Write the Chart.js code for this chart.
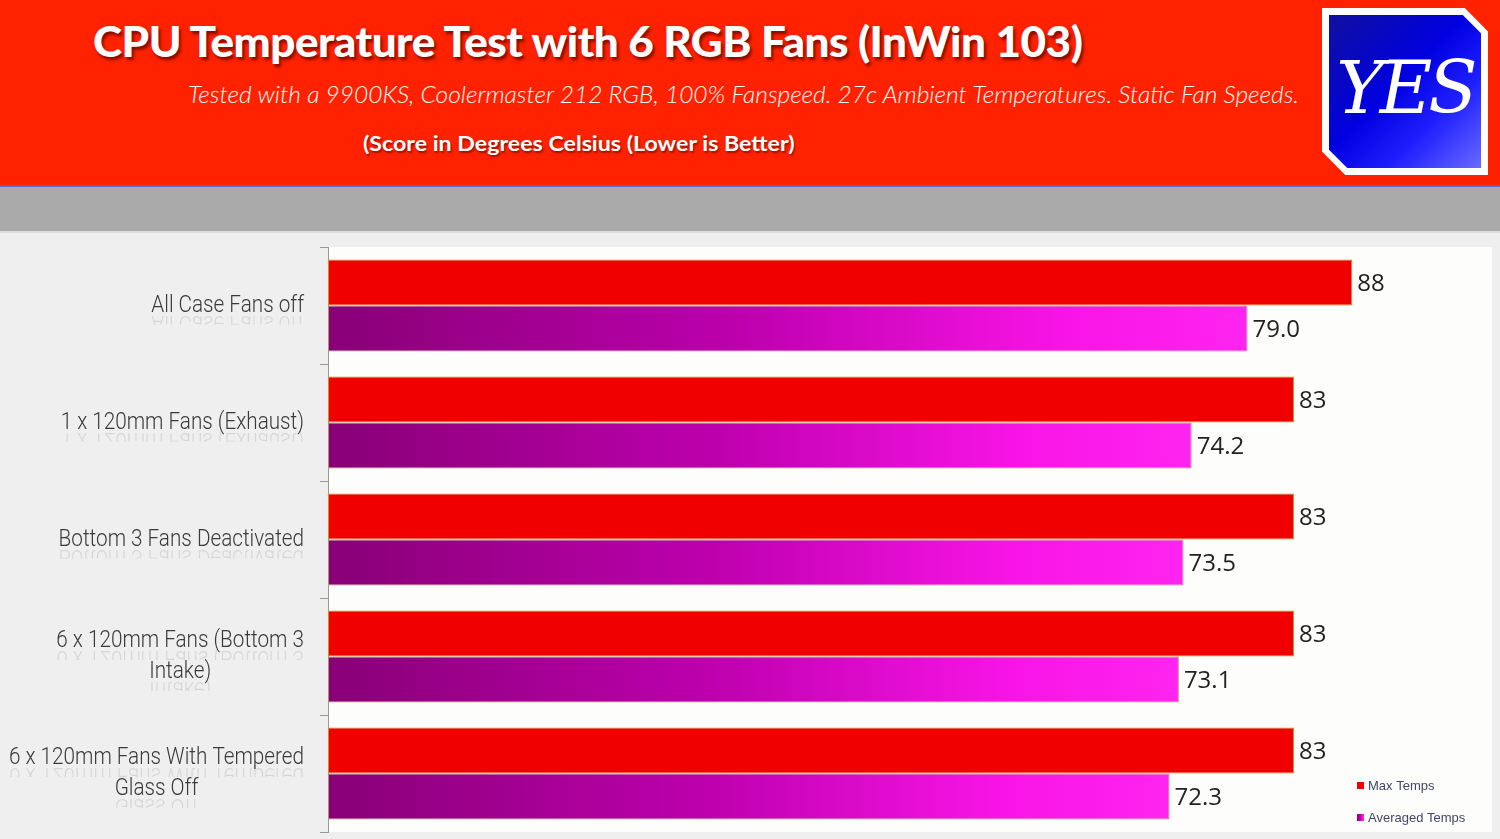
<!DOCTYPE html>
<html>
<head>
<title>CPU Temperature Test with 6 RGB Fans (InWin 103)</title>
<script src="https://cdn.jsdelivr.net/npm/chart.js"></script>
<style>
  html, body { margin: 0; padding: 0; }
  body { width: 1500px; height: 839px; background: #efefef; position: relative; overflow: hidden; }
  #header { position: absolute; left: 0; top: 0; width: 1500px; height: 185px; background: #ff2200; border-bottom: 2px solid #5566cc; }
  #band { position: absolute; left: 0; top: 187px; width: 1500px; height: 44px; background: #aaaaaa; border-bottom: 2px solid #dcdcdc; }
  .t { position: absolute; color: #fff; white-space: nowrap; transform-origin: 0 0; }
  #title { left: 93px; top: 16px; font: 900 42px Lato, sans-serif; letter-spacing: -0.5px; text-shadow: 2px 3px 3px rgba(80,0,0,0.7); }
  #sub { left: 188px; top: 80px; font: italic 300 23px Lato, sans-serif; }
  #score { left: 363px; top: 130px; font: bold 21px Lato, sans-serif; text-shadow: 1px 2px 2px rgba(80,0,0,0.6); }
  #logo { position: absolute; left: 1322px; top: 8px; width: 166px; height: 167px; background: #fff;
          clip-path: polygon(0 0, 86% 0, 100% 14%, 100% 100%, 14% 100%, 0 86%); }
  #logoIn { position: absolute; left: 7px; top: 7px; right: 7px; bottom: 7px;
          background: linear-gradient(135deg, #1010a0 0%, #0000e0 45%, #2020ff 70%, #6a6aff 100%);
          clip-path: polygon(0 0, 88% 0, 100% 12%, 100% 100%, 12% 100%, 0 88%); }
  #logoTxt { position: absolute; left: 0; top: 38px; width: 166px; text-align: center; color: #fff;
          font: italic 72px "DejaVu Serif", serif; letter-spacing: -4px; }
  #wrap { position: absolute; left: 0; top: 233px; width: 1500px; height: 606px; }
</style>
</head>
<body>
<div id="header">
  <div class="t" id="title" data-w="989">CPU Temperature Test with 6 RGB Fans (InWin 103)</div>
  <div class="t" id="sub" data-w="1111">Tested with a 9900KS, Coolermaster 212 RGB, 100% Fanspeed. 27c Ambient Temperatures. Static Fan Speeds.</div>
  <div class="t" id="score" data-w="432">(Score in Degrees Celsius (Lower is Better)</div>
</div>
<div id="logo"><div id="logoIn"></div><div id="logoTxt">YES</div></div>
<div id="band"></div>
<div id="wrap"><canvas id="tempChart" width="1500" height="606"></canvas></div>
<script>
    var categories = [
        ['All Case Fans off'],
        ['1 x 120mm Fans (Exhaust)'],
        ['Bottom 3 Fans Deactivated'],
        ['6 x 120mm Fans (Bottom 3', 'Intake)'],
        ['6 x 120mm Fans With Tempered', 'Glass Off']
    ];
    var maxTemps = [88, 83, 83, 83, 83];
    var avgTemps = [79.0, 74.2, 73.5, 73.1, 72.3];
    var seriesNames = ['Max Temps', 'Averaged Temps'];
    var xMax = 100;

    // stretch header lines to the widths seen in the original
    document.querySelectorAll('[data-w]').forEach(function (el) {
        var k = Number(el.dataset.w) / el.offsetWidth;
        el.style.transform = 'scaleX(' + k + ')';
    });

    function magentaGradient(ctx, x0, x1) {
        var g = ctx.createLinearGradient(x0, 0, x1, 0);
        g.addColorStop(0, '#880076');
        g.addColorStop(0.45, '#bd00ad');
        g.addColorStop(0.8, '#f814e6');
        g.addColorStop(1, '#ff24f0');
        return g;
    }

    // white plot background
    var plotBg = {
        id: 'plotBg',
        beforeDraw: function (chart) {
            var a = chart.chartArea, c = chart.ctx;
            c.save();
            c.fillStyle = '#fdfdfb';
            c.fillRect(a.left, a.top, a.right - a.left, a.bottom - a.top);
            c.restore();
        }
    };

    // category labels (centered lines, right-aligned block, faint reflection), values and legend
    var extras = {
        id: 'extras',
        afterDraw: function (chart) {
            var c = chart.ctx, a = chart.chartArea, y = chart.scales.y;
            var sx = 0.9;
            c.save();
            c.font = '300 23px Roboto, sans-serif';
            c.textAlign = 'center';
            c.textBaseline = 'alphabetic';
            var lh = 31, right = a.left - 24;
            categories.forEach(function (lines, i) {
                var w = 0;
                lines.forEach(function (l) { w = Math.max(w, c.measureText(l).width * sx); });
                var cx = right - w / 2;
                var cy = y.getPixelForValue(i);
                var first = cy - (lines.length - 1) * lh / 2 + 6;
                lines.forEach(function (l, k) {
                    var by = first + k * lh;
                    c.save();
                    c.translate(cx, by);
                    c.scale(sx, 1);
                    c.fillStyle = '#3a3a3a';
                    c.fillText(l, 0, 0);
                    c.restore();
                    c.save();
                    c.beginPath();
                    c.rect(0, by + 2, a.left - 10, 11);
                    c.clip();
                    c.translate(cx, by + 4);
                    c.scale(sx, -1);
                    c.fillStyle = 'rgba(0,0,0,0.10)';
                    c.fillText(l, 0, 0);
                    c.restore();
                });
            });

            // value labels
            c.font = '24px "Open Sans", sans-serif';
            c.textAlign = 'left';
            c.textBaseline = 'middle';
            c.fillStyle = '#222';
            chart.data.datasets.forEach(function (ds, di) {
                chart.getDatasetMeta(di).data.forEach(function (bar, i) {
                    var v = ds.data[i];
                    var txt = di === 0 ? String(v) : v.toFixed(1);
                    c.fillText(txt, bar.x + 5, bar.y + 2);
                });
            });

            // legend
            c.font = '13px "Liberation Sans", sans-serif';
            c.textBaseline = 'middle';
            var lx = a.right - 135;
            chart.data.datasets.forEach(function (ds, di) {
                var ly = a.bottom - 46 + di * 32;
                c.fillStyle = di === 0 ? '#f00000' : magentaGradient(c, lx, lx + 7);
                c.fillRect(lx, ly - 4, 7, 7);
                c.fillStyle = '#45456a';
                c.fillText(ds.label, lx + 11, ly);
            });
            c.restore();
        }
    };

    var ctx = document.getElementById('tempChart').getContext('2d');
    var chart = new Chart(ctx, {
        type: 'bar',
        data: {
            labels: categories,
            datasets: [{
                label: seriesNames[0],
                data: maxTemps,
                backgroundColor: '#f00000',
                borderColor: '#d09020',
                borderWidth: 1,
                borderSkipped: false
            }, {
                label: seriesNames[1],
                data: avgTemps,
                backgroundColor: function (context) {
                    var ch = context.chart;
                    if (!ch.chartArea) return '#c000b0';
                    var end = ch.scales.x.getPixelForValue(context.raw);
                    return magentaGradient(ch.ctx, ch.chartArea.left, end);
                },
                borderColor: '#b09070',
                borderWidth: 1,
                borderSkipped: false
            }]
        },
        options: {
            indexAxis: 'y',
            responsive: false,
            animation: false,
            categoryPercentage: 0.786,
            barPercentage: 1,
            layout: { padding: { left: 0, top: 14, right: 8, bottom: 7 } },
            plugins: {
                legend: { display: false },
                tooltip: { enabled: false }
            },
            scales: {
                x: {
                    min: 0,
                    max: xMax,
                    display: false
                },
                y: {
                    afterFit: function (scale) { scale.width = 328; },
                    ticks: { display: false },
                    grid: {
                        drawOnChartArea: false,
                        color: '#9a9a9a',
                        tickLength: 8
                    },
                    border: { color: '#9a9a9a' }
                }
            }
        },
        plugins: [plotBg, extras]
    });
</script>
</body>
</html>
